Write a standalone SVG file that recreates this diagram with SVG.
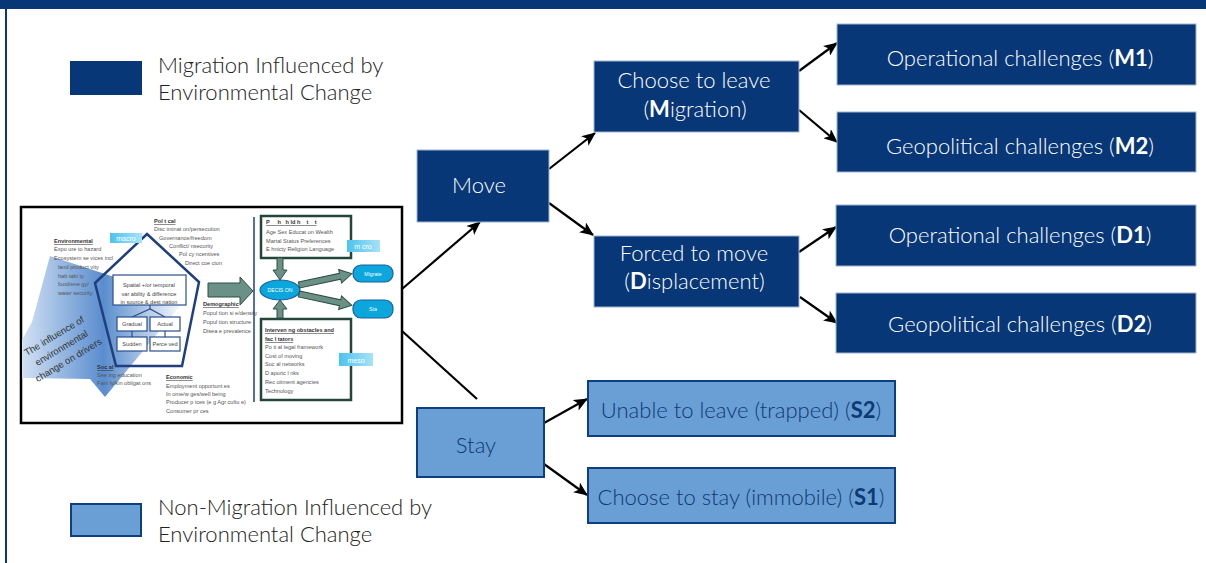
<svg xmlns="http://www.w3.org/2000/svg" width="1206" height="563" viewBox="0 0 1206 563">
<defs>
<style>
.dk{fill:#073776;stroke:#9fb3d2;stroke-width:1}
.lt{fill:#6a9fd5;stroke:#0d3f80;stroke-width:2}
.wt{font-family:Lato,"Liberation Sans",sans-serif;font-weight:300;font-size:22px;fill:#ffffff;text-anchor:middle}
.bt{font-family:Lato,"Liberation Sans",sans-serif;font-weight:300;font-size:22px;fill:#0c3a73;text-anchor:middle}
.lg{font-family:Lato,"Liberation Sans",sans-serif;font-weight:300;font-size:22px;fill:#222}
.b{font-weight:700}
.con{stroke:#000;stroke-width:2.2;fill:none}
.t{font-family:"Liberation Sans",Arial,sans-serif;font-size:5.6px;fill:#555}
.th{font-family:"Liberation Sans",Arial,sans-serif;font-size:5.6px;fill:#333;font-weight:700;text-decoration:underline}
.tc{font-family:"Liberation Sans",Arial,sans-serif;font-size:5.6px;fill:#444;text-anchor:middle}
.lab{font-family:"Liberation Sans",Arial,sans-serif;font-size:7px;fill:#fff;text-anchor:middle}
.pill{fill:#0aa6dc;stroke:#1d5ea0;stroke-width:1.2}
.pt{font-family:"Liberation Sans",Arial,sans-serif;font-size:5.2px;fill:#fff;text-anchor:middle}
.ga{fill:#6b9085;stroke:#2f4f44;stroke-width:1}
.gb{fill:#fff;stroke:#24463a;stroke-width:2.5}
.sb{fill:#fff;stroke:#2a4f8a;stroke-width:1.2}
</style>
<marker id="ah" markerUnits="userSpaceOnUse" markerWidth="14" markerHeight="12" refX="13" refY="6" orient="auto" viewBox="0 0 14 12">
<path d="M0,0 L14,6 L0,12 L3.5,6 z" fill="#000"/>
</marker>
<linearGradient id="blueArrow" x1="22" y1="0" x2="185" y2="0" gradientUnits="userSpaceOnUse">
<stop offset="0" stop-color="#d2e1f4"/>
<stop offset="0.5" stop-color="#5a8dce"/>
<stop offset="1" stop-color="#5a8dce" stop-opacity="0"/>
</linearGradient>
<linearGradient id="labG" x1="0" y1="0" x2="1" y2="0">
<stop offset="0" stop-color="#4cc3ee"/>
<stop offset="1" stop-color="#a6e2f8"/>
</linearGradient>
</defs>

<rect x="0" y="0" width="1206" height="563" fill="#fff"/>
<rect x="0" y="0" width="1206" height="9" fill="#073776"/>
<line x1="6" y1="9" x2="6" y2="563" stroke="#073776" stroke-width="2"/>

<g id="legend-migration">
<rect x="70" y="61" width="72" height="34" fill="#073776"/>
<text class="lg" x="158" y="73">Migration Influenced by</text>
<text class="lg" x="158" y="100">Environmental Change</text>
</g>

<g id="legend-nonmigration">
<rect x="71" y="504" width="70" height="32" fill="#6a9fd5" stroke="#0d3f80" stroke-width="2"/>
<text class="lg" x="158" y="515">Non-Migration Influenced by</text>
<text class="lg" x="158" y="542">Environmental Change</text>
</g>

<g id="drivers-figure">
<rect x="21" y="207" width="381" height="216" fill="#fff" stroke="#000" stroke-width="2.5"/>
<polygon points="50,256 185,300 105,397 90,379 22,378 22,340 32,322" fill="url(#blueArrow)"/>
<g transform="translate(62,349) rotate(-31)" font-family="Liberation Sans,Arial,sans-serif" font-size="9.5" fill="#333" text-anchor="middle">
<text x="0" y="-12">The influence of</text>
<text x="0" y="2">environmental</text>
<text x="0" y="16">change on drivers</text>
</g>
<polygon points="147,234 199,282 182,366 116,366 95,283" fill="none" stroke="#1f3f7f" stroke-width="2.5"/>
<rect class="sb" x="113" y="275" width="73" height="30"/>
<text class="tc" x="149" y="287">Spatial +/or temporal</text>
<text class="tc" x="149" y="296">var ability &amp; difference</text>
<text class="tc" x="149" y="304">in source &amp; dest nation</text>
<polyline points="132,317 150,309 165,317" fill="none" stroke="#2a4f8a" stroke-width="1.2"/>
<line x1="150" y1="305" x2="150" y2="309" stroke="#2a4f8a" stroke-width="1.2"/>
<rect class="sb" x="117" y="317" width="30" height="14"/>
<rect class="sb" x="150" y="317" width="30" height="14"/>
<rect class="sb" x="117" y="337" width="30" height="14"/>
<rect class="sb" x="150" y="337" width="30" height="14"/>
<line x1="132" y1="331" x2="132" y2="337" stroke="#2a4f8a" stroke-width="1.2"/>
<line x1="165" y1="331" x2="165" y2="337" stroke="#2a4f8a" stroke-width="1.2"/>
<text class="tc" x="132" y="326">Gradual</text>
<text class="tc" x="165" y="326">Actual</text>
<text class="tc" x="132" y="346">Sudden</text>
<text class="tc" x="165" y="346">Perce ved</text>
<rect x="110" y="233" width="32" height="10" fill="url(#labG)"/>
<text class="lab" x="126" y="241">macro</text>
<text class="th" x="154" y="223">Pol t cal</text>
<text class="t" x="154" y="231">Disc iminat on/persecution</text>
<text class="t" x="159" y="239.5">Governance/freedom</text>
<text class="t" x="169" y="248">Conflict/ nsecurity</text>
<text class="t" x="179" y="256">Pol cy ncentives</text>
<text class="t" x="185" y="265">Direct coe cion</text>
<text class="th" x="54" y="243">Environmental</text>
<text class="t" x="54" y="251">Expo ure to hazard</text>
<text class="t" x="54" y="260">Ecosystem se vices incl</text>
<text class="t" x="58" y="269">land product vity</text>
<text class="t" x="58" y="278">hab tabi ty</text>
<text class="t" x="58" y="286">food/ene gy/</text>
<text class="t" x="58" y="295">water security</text>
<text class="th" x="203" y="306">Demographic</text>
<text class="t" x="203" y="315">Popul tion si e/density</text>
<text class="t" x="203" y="324">Popul tion structure</text>
<text class="t" x="203" y="333">Disea e prevalence</text>
<text class="th" x="166" y="379">Economic</text>
<text class="t" x="166" y="388">Employment opportunt es</text>
<text class="t" x="166" y="396">In ome/w ges/well being</text>
<text class="t" x="166" y="404">Producer p ices (e g Agr cultu e)</text>
<text class="t" x="166" y="413">Consumer pr ces</text>
<text class="th" x="97" y="369">Soc al</text>
<text class="t" x="97" y="377">See ing education</text>
<text class="t" x="97" y="385">Fam ly/kin obligat ons</text>
<polygon class="ga" points="208,283 240,283 240,277 253,291 240,305 240,297 208,297"/>
<line x1="254" y1="217" x2="254" y2="402" stroke="#1f3f7f" stroke-width="1.5"/>
<rect class="gb" x="261" y="216" width="90" height="42"/>
<text class="th" x="266" y="224" xml:space="preserve">P     h   h ld h    t    t</text>
<text class="t" x="266" y="234">Age Sex Educat on Wealth</text>
<text class="t" x="266" y="243">Martal Status Preferences</text>
<text class="t" x="266" y="251">E hnicty Religion Language</text>
<rect x="347" y="240" width="33" height="12" fill="url(#labG)"/>
<text class="lab" x="363" y="249">m cro</text>
<rect class="gb" x="261" y="319" width="90" height="81"/>
<text class="th" x="265" y="332">Interven ng obstacles and</text>
<text class="th" x="265" y="341">fac l tators</text>
<text class="t" x="265" y="349">Po ti al legal framework</text>
<text class="t" x="265" y="358">Cost of moving</text>
<text class="t" x="265" y="366">Soc al networks</text>
<text class="t" x="265" y="375">D aporic l nks</text>
<text class="t" x="265" y="384">Rec uitment agencies</text>
<text class="t" x="265" y="393">Technology</text>
<rect x="339" y="353" width="34" height="13" fill="url(#labG)"/>
<text class="lab" x="356" y="363">meso</text>
<polygon class="ga" points="277,258 283,258 283,270 287,270 280,280 273,270 277,270"/>
<polygon class="ga" points="277,318 283,318 283,309 287,309 280,300 273,309 277,309"/>
<ellipse class="pill" cx="280" cy="290" rx="20" ry="10"/>
<text class="pt" x="280" y="292">DECIS ON</text>
<g transform="translate(299,285) rotate(-12)"><polygon class="ga" points="0,-3 42,-3 42,-7 54,0 42,7 42,3 0,3"/></g>
<g transform="translate(299,294) rotate(12)"><polygon class="ga" points="0,-3 42,-3 42,-7 54,0 42,7 42,3 0,3"/></g>
<rect class="pill" x="353" y="265" width="40" height="17" rx="8"/>
<text class="pt" x="373" y="275.5">Migrate</text>
<rect class="pill" x="353" y="300" width="40" height="18" rx="8"/>
<text class="pt" x="373" y="311">Sta</text>
</g>

<g id="connectors">
<line class="con" x1="402" y1="289" x2="480" y2="222" marker-end="url(#ah)"/>
<line class="con" x1="402" y1="331" x2="477" y2="399"/>
<line class="con" x1="549" y1="169" x2="595" y2="133" marker-end="url(#ah)"/>
<line class="con" x1="549" y1="203" x2="593" y2="235" marker-end="url(#ah)"/>
<line class="con" x1="799" y1="71" x2="837" y2="43" marker-end="url(#ah)"/>
<line class="con" x1="799" y1="110" x2="837" y2="142" marker-end="url(#ah)"/>
<line class="con" x1="799" y1="252" x2="836" y2="227" marker-end="url(#ah)"/>
<line class="con" x1="800" y1="297" x2="837" y2="323" marker-end="url(#ah)"/>
<line class="con" x1="544" y1="423" x2="587" y2="399" marker-end="url(#ah)"/>
<line class="con" x1="544" y1="464" x2="587" y2="495" marker-end="url(#ah)"/>
</g>

<g id="move">
<rect class="dk" x="417" y="150" width="132" height="72"/>
<text class="wt" x="479" y="193">Move</text>
</g>
<g id="choose-to-leave">
<rect class="dk" x="594" y="61" width="205" height="71"/>
<text class="wt" x="694" y="88">Choose to leave</text>
<text class="wt" x="695" y="117">(<tspan class="b">M</tspan>igration)</text>
</g>
<g id="forced-to-move">
<rect class="dk" x="594" y="236" width="205" height="71"/>
<text class="wt" x="694" y="261">Forced to move</text>
<text class="wt" x="694.5" y="289">(<tspan class="b">D</tspan>isplacement)</text>
</g>
<g id="m1">
<rect class="dk" x="837" y="24" width="359" height="61"/>
<text class="wt" x="1020" y="66">Operational challenges (<tspan class="b">M1</tspan>)</text>
</g>
<g id="m2">
<rect class="dk" x="837" y="112" width="359" height="60"/>
<text class="wt" x="1020" y="154">Geopolitical challenges (<tspan class="b">M2</tspan>)</text>
</g>
<g id="d1">
<rect class="dk" x="836" y="205" width="360" height="61"/>
<text class="wt" x="1020" y="243">Operational challenges (<tspan class="b">D1</tspan>)</text>
</g>
<g id="d2">
<rect class="dk" x="836" y="293" width="360" height="60"/>
<text class="wt" x="1020" y="332">Geopolitical challenges (<tspan class="b">D2</tspan>)</text>
</g>
<g id="stay">
<rect class="lt" x="417" y="408" width="127" height="69"/>
<text class="bt" x="476" y="453">Stay</text>
</g>
<g id="s2">
<rect class="lt" x="588" y="381" width="307" height="55"/>
<text class="bt" x="741" y="418">Unable to leave (trapped) (<tspan class="b">S2</tspan>)</text>
</g>
<g id="s1">
<rect class="lt" x="588" y="468" width="307" height="55"/>
<text class="bt" x="741" y="505">Choose to stay (immobile) (<tspan class="b">S1</tspan>)</text>
</g>
</svg>
